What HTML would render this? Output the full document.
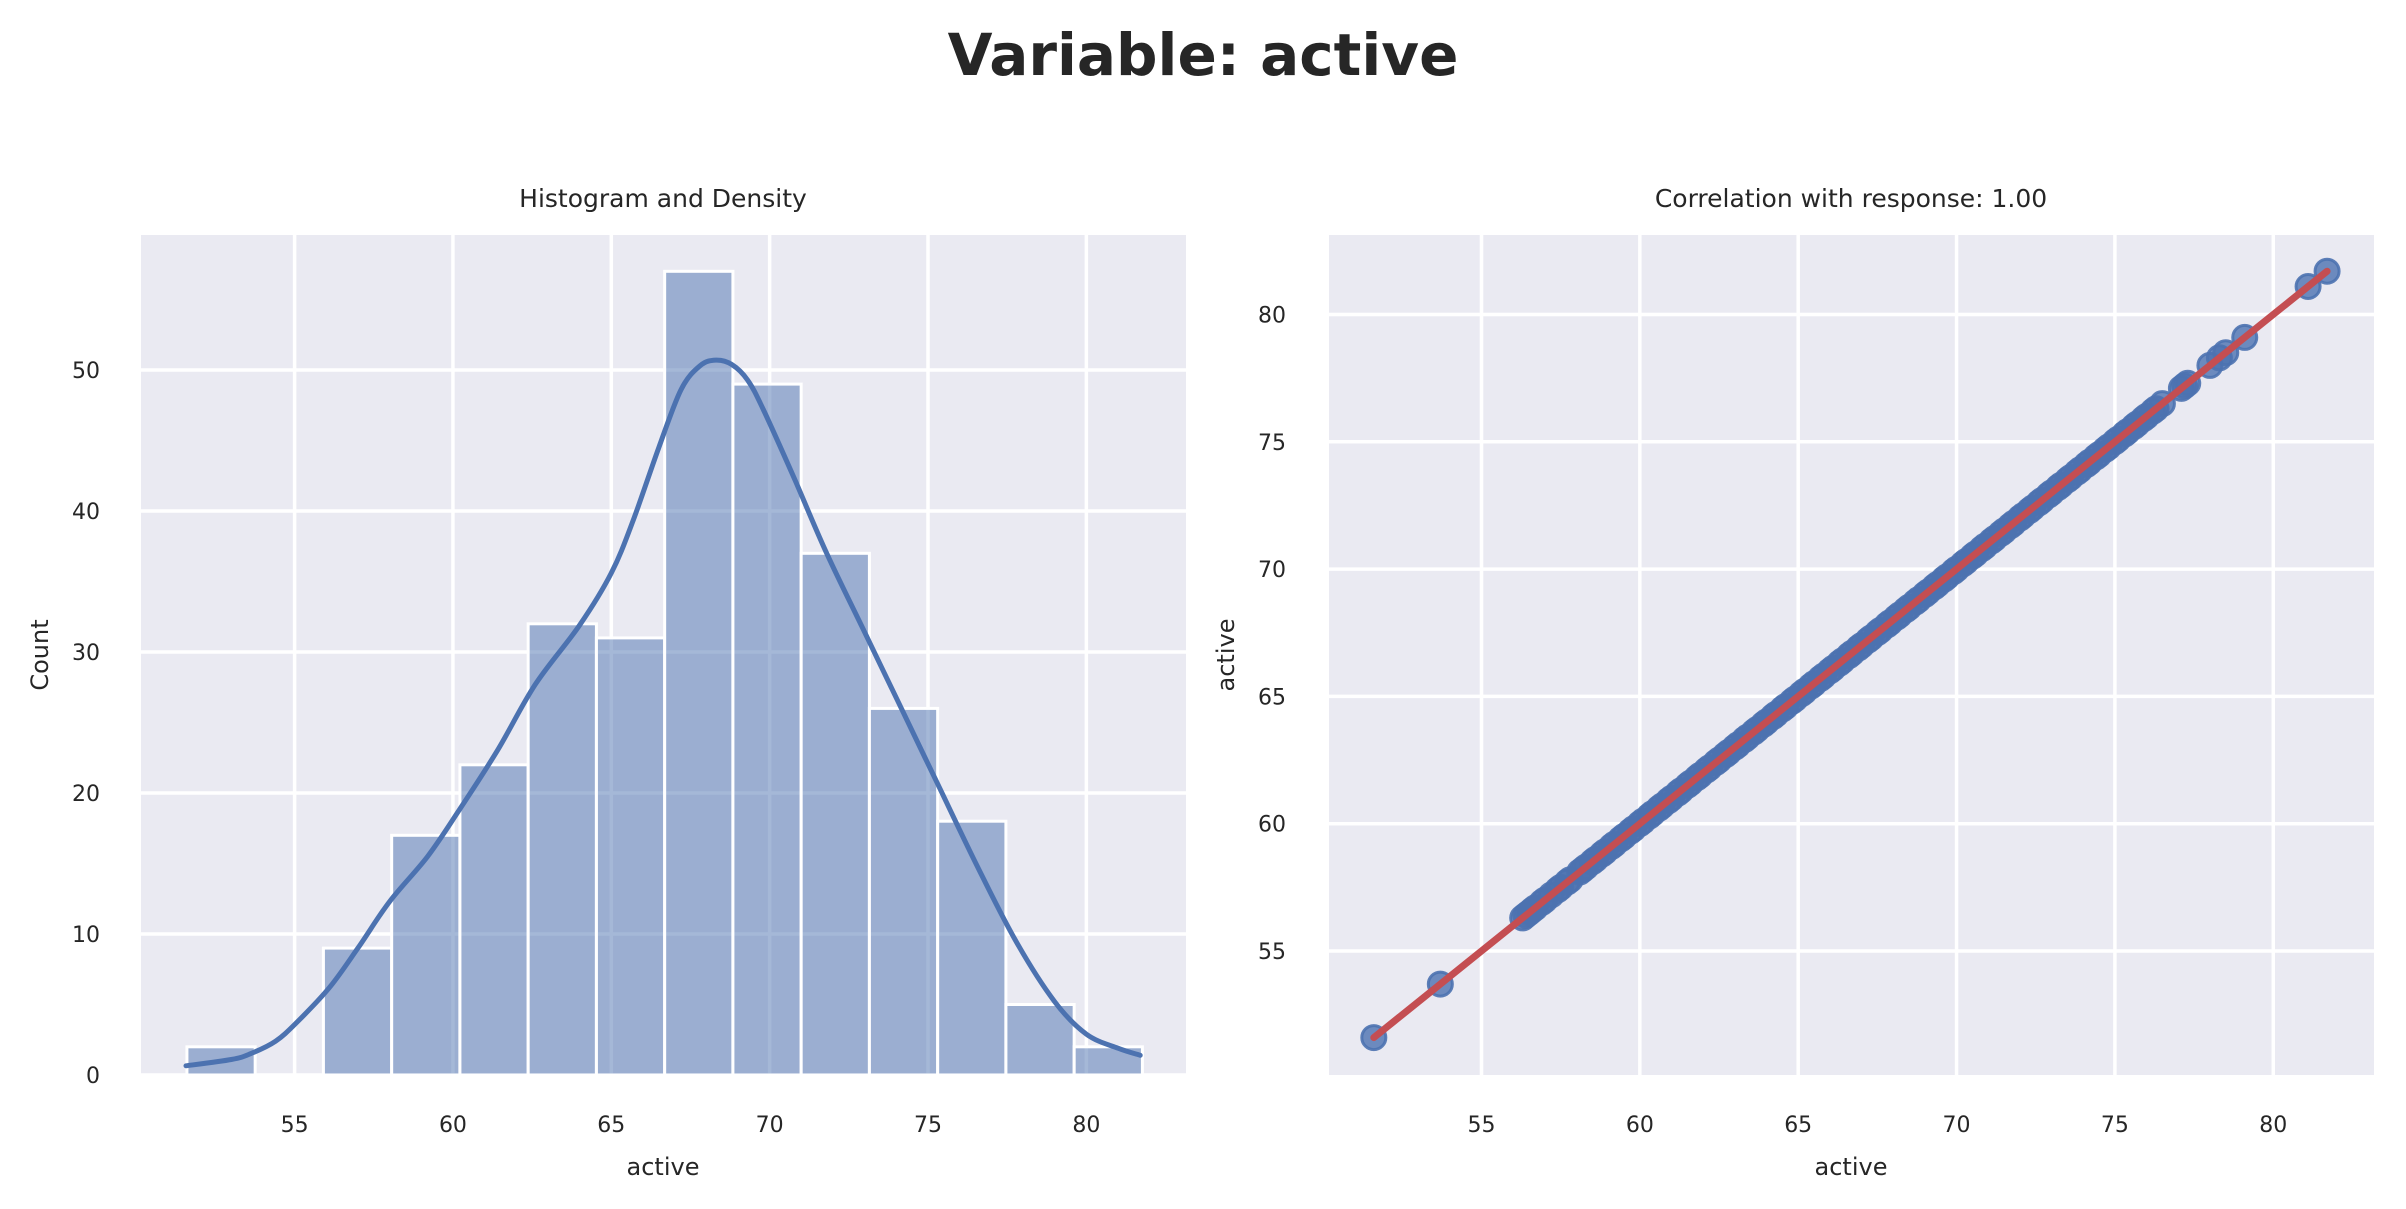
<!DOCTYPE html>
<html><head><meta charset="utf-8"><style>
html,body{margin:0;padding:0;background:#fff;}
svg{display:block;font-family:"DejaVu Sans","Liberation Sans",sans-serif;}
</style></head><body>
<svg id="fig" width="2406" height="1209" viewBox="0 0 2406 1209" xmlns="http://www.w3.org/2000/svg">
<text x="1203" y="75" text-anchor="middle" font-size="58" font-weight="bold" fill="#262626">Variable: active</text>
<g id="left"></g>
<g id="right"></g>
</svg>
<script>
const binCounts=[2,0,9,17,22,32,31,57,49,37,26,18,5,2];
const binStart=[51.6];
const binWidth=[2.155];
const kdeX=[51.57,53.0,53.6,54.4,55.1,56.1,57.0,58.0,59.2,60.2,61.4,62.6,64.0,65.0,65.7,66.5,67.2,67.8,68.3,68.8,69.3,69.8,70.8,71.8,73.0,74.2,75.4,76.6,77.8,79.0,80.0,81.0,81.7];
const kdeY=[0.65,1.1,1.5,2.4,3.8,6.2,9.0,12.3,15.5,18.8,23.0,27.7,31.9,35.6,39.4,44.5,48.6,50.3,50.7,50.4,49.3,47.2,42.2,37.0,31.4,25.8,20.2,14.6,9.4,5.2,2.9,1.9,1.4];
const xTicks=[55,60,65,70,75,80];
const countTicks=[0,10,20,30,40,50];
const scatterTicks=[55,60,65,70,75,80];
const scatterVals=[51.6,53.7,56.3,56.4,56.5,56.6,56.7,56.9,57.0,57.2,57.4,57.5,57.7,57.8,58.1,58.2,58.3,58.5,58.6,58.8,58.9,59.1,59.2,59.4,59.5,59.7,59.8,60.0,60.1,60.3,60.4,60.6,60.7,60.9,61.0,61.2,61.3,61.5,61.6,61.8,61.9,62.1,62.2,62.4,62.5,62.7,62.8,63.0,63.1,63.3,63.4,63.6,63.7,63.9,64.0,64.2,64.3,64.5,64.6,64.8,64.9,65.1,65.2,65.4,65.5,65.7,65.8,66.0,66.1,66.3,66.4,66.6,66.7,66.9,67.0,67.2,67.3,67.5,67.6,67.8,67.9,68.1,68.2,68.4,68.5,68.7,68.8,69.0,69.1,69.3,69.4,69.6,69.7,69.9,70.0,70.2,70.3,70.5,70.6,70.8,70.9,71.1,71.2,71.4,71.5,71.7,71.8,72.0,72.1,72.3,72.4,72.6,72.7,72.9,73.0,73.2,73.3,73.5,73.6,73.8,73.9,74.1,74.2,74.4,74.5,74.7,74.8,75.0,75.1,75.3,75.4,75.6,75.7,75.9,76.0,76.2,76.3,76.5,77.1,77.2,77.3,78.0,78.3,78.5,79.1,81.1,81.7];
const fitLine=[51.6,81.7];

const NS="http://www.w3.org/2000/svg";
function mk(parent,tag,attrs,text){const e=document.createElementNS(NS,tag);for(const k in attrs)e.setAttribute(k,attrs[k]);if(text!==undefined)e.textContent=text;parent.appendChild(e);return e;}
const TC="#262626";
const TF=22, LF=24, HF=25;

const L={x0:141,x1:1186,y0:235,y1:1075};
const lx=v=>294.6+(v-55)*31.67;
const ly=v=>1075-v*14.1;
const gl=document.getElementById('left');
let bg=mk(gl,'rect',{x:L.x0,y:L.y0,width:L.x1-L.x0,height:L.y1-L.y0,fill:'#eaeaf2'});


xTicks.forEach(t=>{
 let g=mk(gl,'line',{x1:lx(t),x2:lx(t),y1:L.y0,y2:L.y1,stroke:'#fff','stroke-width':3.5});
 
 
 let tx=mk(gl,'text',{x:lx(t),y:1132,'text-anchor':'middle','font-size':TF,fill:TC},t);
 
 
});
countTicks.forEach(t=>{
 let g=mk(gl,'line',{x1:L.x0,x2:L.x1,y1:ly(t),y2:ly(t),stroke:'#fff','stroke-width':3.5});
 
 
 let tx=mk(gl,'text',{x:100,y:ly(t)+8,'text-anchor':'end','font-size':TF,fill:TC},t);
 
 
});
binCounts.forEach((c,i)=>{
 if(c<=0)return;
 const a=binStart[0]+i*binWidth[0],b=a+binWidth[0];
 let r=mk(gl,'rect',{x:lx(a),y:ly(c),width:lx(b)-lx(a),height:ly(0)-ly(c),fill:'rgba(76,114,176,0.5)',stroke:'#fff','stroke-width':3});
 
 
});
const P=kdeX.map((x,i)=>[lx(x),ly(kdeY[i])]);
let d='M'+P[0][0].toFixed(1)+','+P[0][1].toFixed(1);
for(let i=0;i<P.length-1;i++){
 const p0=P[Math.max(0,i-1)],p1=P[i],p2=P[i+1],p3=P[Math.min(P.length-1,i+2)];
 const c1=[p1[0]+(p2[0]-p0[0])/6,p1[1]+(p2[1]-p0[1])/6];
 const c2=[p2[0]-(p3[0]-p1[0])/6,p2[1]-(p3[1]-p1[1])/6];
 d+=' C'+c1.map(v=>v.toFixed(1)).join(',')+' '+c2.map(v=>v.toFixed(1)).join(',')+' '+p2.map(v=>v.toFixed(1)).join(',');
}
let kp=mk(gl,'path',{d:d,fill:'none',stroke:'#4c72b0','stroke-width':5,'stroke-linejoin':'round','stroke-linecap':'round'});


let t1=mk(gl,'text',{x:663,y:207,'text-anchor':'middle','font-size':HF,fill:TC},'Histogram and Density');


let xl=mk(gl,'text',{x:663,y:1175,'text-anchor':'middle','font-size':LF,fill:TC},'active');


let yl=mk(gl,'text',{x:48,y:655,'text-anchor':'middle','font-size':LF,fill:TC,transform:'rotate(-90 48 655)'},'Count');



const R={x0:1329,x1:2374,y0:235,y1:1075};
const rx=v=>1481.5+(v-55)*31.67;
const ry=v=>951-(v-55)*25.46;
const gr=document.getElementById('right');
let bg2=mk(gr,'rect',{x:R.x0,y:R.y0,width:R.x1-R.x0,height:R.y1-R.y0,fill:'#eaeaf2'});


scatterTicks.forEach(t=>{
 let g=mk(gr,'line',{x1:rx(t),x2:rx(t),y1:R.y0,y2:R.y1,stroke:'#fff','stroke-width':3.5});
 
 
 let g2=mk(gr,'line',{x1:R.x0,x2:R.x1,y1:ry(t),y2:ry(t),stroke:'#fff','stroke-width':3.5});
 
 
 let tx=mk(gr,'text',{x:rx(t),y:1132,'text-anchor':'middle','font-size':TF,fill:TC},t);
 
 
 let ty=mk(gr,'text',{x:1286,y:ry(t)+8,'text-anchor':'end','font-size':TF,fill:TC},t);
 
 
});
scatterVals.forEach(v=>{
 let c=mk(gr,'circle',{cx:rx(v),cy:ry(v),r:12,fill:'rgba(76,114,176,0.8)',stroke:'rgba(76,114,176,0.9)','stroke-width':3});
 
 
});
let fl=mk(gr,'line',{x1:rx(fitLine[0]),y1:ry(fitLine[0]),x2:rx(fitLine[1]),y2:ry(fitLine[1]),stroke:'#c44e52','stroke-width':7,'stroke-linecap':'round'});


let t2=mk(gr,'text',{x:1851,y:207,'text-anchor':'middle','font-size':HF,fill:TC},'Correlation with response: 1.00');


let xl2=mk(gr,'text',{x:1851,y:1175,'text-anchor':'middle','font-size':LF,fill:TC},'active');


let yl2=mk(gr,'text',{x:1234,y:655,'text-anchor':'middle','font-size':LF,fill:TC,transform:'rotate(-90 1234 655)'},'active');


</script>
</body></html>
